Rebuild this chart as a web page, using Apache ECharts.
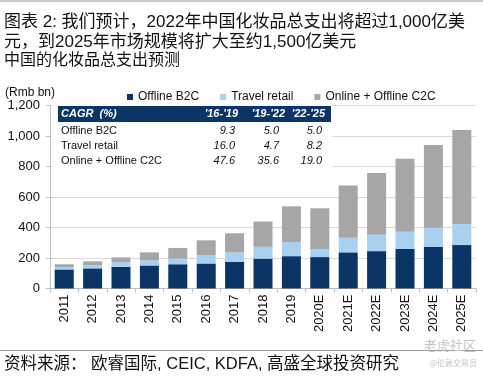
<!DOCTYPE html>
<html>
<head>
<meta charset="utf-8">
<script src="https://cdn.jsdelivr.net/npm/echarts@6/dist/echarts.min.js"></script>
<style>
  html, body { margin: 0; padding: 0; background: #fff; }
  #chart { width: 483px; height: 376px; }
</style>
</head>
<body>
<div id="chart"></div>
<script>
// 年份
const years = ['2011', '2012', '2013', '2014', '2015', '2016', '2017', '2018', '2019',
  '2020E', '2021E', '2022E', '2023E', '2024E', '2025E']
// 各渠道支出 (Rmb bn)
const offlineB2C = [125, 132, 142, 151, 159, 164, 175, 196, 212, 206, 237, 245, 259, 274, 285]
const travelRetail = [16, 21, 31, 33, 37, 55, 62, 77, 93, 53, 96, 108, 113, 125, 136]
const onlineC2C = [18, 25, 31, 53, 70, 97, 125, 166, 234, 267, 342, 404, 479, 542, 618]
const yTicks = [0, 200, 400, 600, 800, 1000, 1200]

// CAGR 表格
const cagrHeader = ["'16-'19", "'19-'22", "'22-'25"]
const cagrRows = ['Offline B2C', 'Travel retail', 'Online + Offline C2C']
const cagrValues = [
  ['9.3', '5.0', '5.0'],
  ['16.0', '4.7', '8.2'],
  ['47.6', '35.6', '19.0']
]

const cjk = '"Liberation Sans", Arial, "Noto Sans CJK SC", sans-serif'
const navy = '#0b3566'

const chart = echarts.init(document.getElementById('chart'))

const colX = [238, 285, 325]
const valX = [235, 279, 322]
const rowY = [131, 146, 161]

const tableElems = [
  { type: 'rect', z: 100, shape: { x: 52, y: 104, width: 280, height: 67 }, style: { fill: '#fff' } },
  { type: 'rect', z: 101, shape: { x: 58, y: 106, width: 273, height: 16 }, style: { fill: navy } },
  { type: 'text', z: 102, x: 61, y: 114, style: { text: 'CAGR  (%)', fill: '#fff', font: 'italic bold 11px ' + cjk, verticalAlign: 'middle' } }
]
cagrHeader.forEach((h, i) => {
  tableElems.push({ type: 'text', z: 102, x: colX[i], y: 114,
    style: { text: h, fill: '#fff', font: 'italic bold 11px ' + cjk, align: 'right', verticalAlign: 'middle' } })
})
cagrRows.forEach((r, j) => {
  tableElems.push({ type: 'text', z: 102, x: 61, y: rowY[j],
    style: { text: r, fill: '#111', font: '11px ' + cjk, verticalAlign: 'middle' } })
  cagrValues[j].forEach((v, i) => {
    tableElems.push({ type: 'text', z: 102, x: valX[i], y: rowY[j],
      style: { text: v, fill: '#111', font: 'italic 11px ' + cjk, align: 'right', verticalAlign: 'middle' } })
  })
})

const option = {
  animation: false,
  textStyle: { fontFamily: cjk },
  grid: { left: 50, right: 7, top: 105.5, bottom: 87.5 },
  legend: {
    left: 122,
    top: 86,
    icon: 'rect',
    itemWidth: 6,
    itemHeight: 6,
    itemGap: 21,
    textStyle: { fontSize: 12, color: '#111', fontFamily: cjk },
    data: ['Offline B2C', 'Travel retail', 'Online + Offline C2C']
  },
  xAxis: {
    type: 'category',
    data: years,
    axisLine: { lineStyle: { color: '#bfbfbf' } },
    axisTick: { show: true, length: 4, lineStyle: { color: '#bfbfbf' } },
    axisLabel: { rotate: 90, margin: 6, fontSize: 13, color: '#111', fontFamily: cjk }
  },
  yAxis: {
    type: 'value',
    min: yTicks[0],
    max: yTicks[yTicks.length - 1],
    interval: 200,
    axisLine: { show: true, lineStyle: { color: '#bfbfbf' } },
    axisTick: { show: true, length: 4, lineStyle: { color: '#bfbfbf' } },
    splitLine: { lineStyle: { color: '#d9d9d9' } },
    axisLabel: {
      margin: 10, fontSize: 13, color: '#111', fontFamily: cjk,
      formatter: v => v.toLocaleString('en-US')
    }
  },
  series: [
    { name: 'Offline B2C', type: 'bar', stack: 'total', data: offlineB2C, barCategoryGap: '33%', itemStyle: { color: navy } },
    { name: 'Travel retail', type: 'bar', stack: 'total', data: travelRetail, itemStyle: { color: '#a9d1ef' } },
    { name: 'Online + Offline C2C', type: 'bar', stack: 'total', data: onlineC2C, itemStyle: { color: '#a6a6a6' } }
  ],
  graphic: [
    { type: 'rect', shape: { x: 0, y: 0, width: 483, height: 2 }, style: { fill: '#c8c8c8' } },
    { type: 'text', x: 4, y: 22, style: { text: '图表 2: 我们预计，2022年中国化妆品总支出将超过1,000亿美', fill: '#111', font: '17px ' + cjk, verticalAlign: 'middle' } },
    { type: 'text', x: 4, y: 42, style: { text: '元，到2025年市场规模将扩大至约1,500亿美元', fill: '#111', font: '17px ' + cjk, verticalAlign: 'middle' } },
    { type: 'text', x: 4, y: 61, style: { text: '中国的化妆品总支出预测', fill: '#111', font: '16px ' + cjk, verticalAlign: 'middle' } },
    { type: 'text', x: 5, y: 93, style: { text: '(Rmb bn)', fill: '#111', font: '12px ' + cjk, verticalAlign: 'middle' } },
    { type: 'rect', shape: { x: 0, y: 350, width: 483, height: 1 }, style: { fill: '#9a9a9a' } },
    { type: 'text', x: 4, y: 364, style: { text: '资料来源： 欧睿国际, CEIC, KDFA, 高盛全球投资研究', fill: '#111', font: '16.5px ' + cjk, verticalAlign: 'middle' } },
    { type: 'text', x: 476, y: 345, style: { text: '老虎社区', fill: '#c4c4c4', font: '13px "Noto Sans CJK SC", sans-serif', align: 'right', verticalAlign: 'middle' } },
    { type: 'text', x: 477, y: 363, style: { text: '@伦敦交易员', fill: '#c4c4c4', font: '8px "Noto Sans CJK SC", sans-serif', align: 'right', verticalAlign: 'middle' } }
  ].concat(tableElems)
}

chart.setOption(option)
</script>
</body>
</html>
